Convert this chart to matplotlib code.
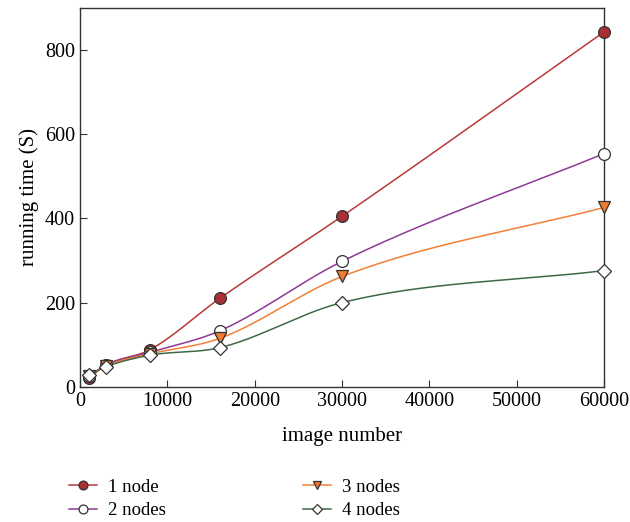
import numpy as np
import matplotlib.pyplot as plt

# data
image_number = [1000, 3000, 8000, 16000, 30000, 60000]
node1 = [20, 52, 88, 210, 405, 843]
node2 = [25, 52, 82, 133, 298, 554]
node3 = [25, 50, 78, 115, 262, 426]
node4 = [28, 48, 75, 93, 200, 276]

series = [
    ("1 node", node1, "#b8393b", "o", "#a82f33"),
    ("2 nodes", node2, "#8e3a97", "o", "white"),
    ("3 nodes", node3, "#f28035", "v", "#f07a30"),
    ("4 nodes", node4, "#3f6a45", "D", "white"),
]


def smooth(x, y, n=400):
    # cubic hermite curve through the points (only for drawing the line)
    x = np.asarray(x, float)
    y = np.asarray(y, float)
    sec = np.diff(y) / np.diff(x)
    m = np.empty_like(y)
    m[0], m[-1] = sec[0], sec[-1]
    m[1:-1] = (sec[:-1] + sec[1:]) / 2
    xs = np.linspace(x[0], x[-1], n)
    i = np.clip(np.searchsorted(x, xs) - 1, 0, len(x) - 2)
    h = x[i + 1] - x[i]
    t = (xs - x[i]) / h
    ys = (2*t**3 - 3*t**2 + 1) * y[i] + (t**3 - 2*t**2 + t) * h * m[i] \
        + (-2*t**3 + 3*t**2) * y[i + 1] + (t**3 - t**2) * h * m[i + 1]
    return xs, ys


plt.rcParams['font.family'] = ['Liberation Serif', 'DejaVu Serif']
fig = plt.figure(figsize=(6.3, 5.22), dpi=100)
ax = fig.add_axes([0.127, 0.259, 0.832, 0.726])

handles = []
for label, vals, col, mk, fc in series:
    ms = 7 if mk == 'D' else 8.5
    xs, ys = smooth(image_number, vals)
    ax.plot(xs, ys, color=col, lw=1.1, zorder=2)
    ax.plot(image_number, vals, ls='none', marker=mk, ms=ms,
            mfc=fc, mec='#333333', mew=0.9, zorder=3, clip_on=False)
    h, = ax.plot([], [], color=col, lw=1.1, marker=mk, ms=ms,
                 mfc=fc, mec='#333333', mew=0.9, label=label)
    handles.append(h)

ax.set_xlim(0, 60000)
ax.set_ylim(0, 900)
ax.set_xticks([0, 10000, 20000, 30000, 40000, 50000, 60000])
ax.set_yticks([0, 200, 400, 600, 800])
ax.tick_params(direction='in', labelsize=14.5, length=5, color='#333333')
for s in ax.spines.values():
    s.set_color('#333333')
    s.set_linewidth(1.0)
ax.set_xlabel("image number", fontsize=15, labelpad=12)
ax.set_ylabel("running time (S)", fontsize=15)

fig.legend(handles, [h.get_label() for h in handles], ncol=2, frameon=False,
           loc='lower left', bbox_to_anchor=(0.082, -0.027), fontsize=13.5,
           columnspacing=7.3, handlelength=1.5, handletextpad=0.6,
           labelspacing=0.35, markerscale=0.75)

fig.savefig("out.png", dpi=100)
